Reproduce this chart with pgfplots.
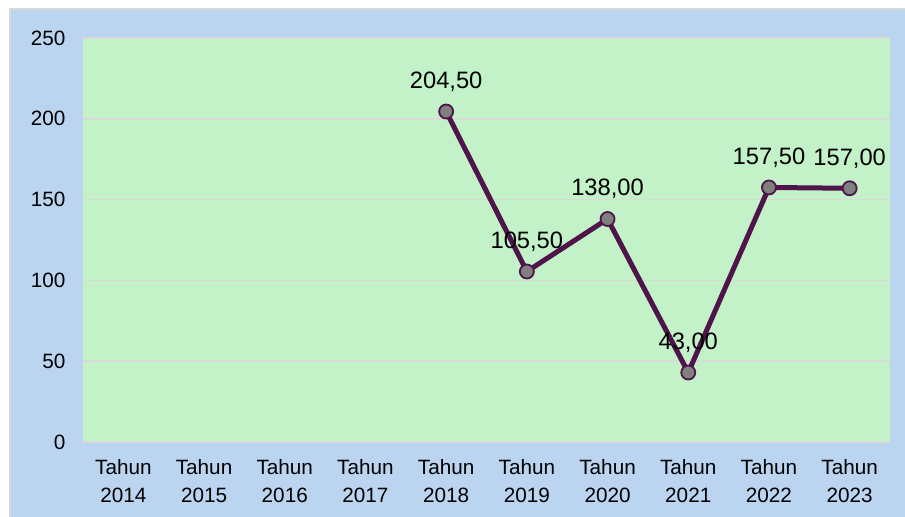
\documentclass[border=0pt]{standalone}
\usepackage{pgfplots}
\pgfplotsset{compat=1.18}
\usepackage{fontspec}
\setmainfont{Liberation Sans}
\definecolor{bgblue}{HTML}{BBD5F1}
\definecolor{plotgreen}{HTML}{C3F1C8}
\definecolor{linepurple}{HTML}{4F1449}
\definecolor{gridgray}{HTML}{D9D9D9}
\definecolor{markgray}{HTML}{808080}
\begin{document}
\begin{tikzpicture}[x=1bp,y=1bp]
\useasboundingbox (0,0) rectangle (905,517);
\fill[white] (0,0) rectangle (905,517);
\fill[gridgray] (9,0) rectangle (905,509);
\fill[bgblue] (11,0) rectangle (905,507);
\begin{axis}[
  at={(83bp,75bp)}, anchor=south west,
  scale only axis, width=807bp, height=404bp,
  xmin=-0.5, xmax=9.5, ymin=0, ymax=250,
  axis background/.style={fill=plotgreen},
  axis line style={draw=none},
  ymajorgrids, grid style={gridgray, line width=1.5bp},
  major tick length=0pt,
  ytick={0,50,100,150,200,250},
  xtick={0,...,9},
  xticklabels={{Tahun\\2014},{Tahun\\2015},{Tahun\\2016},{Tahun\\2017},{Tahun\\2018},{Tahun\\2019},{Tahun\\2020},{Tahun\\2021},{Tahun\\2022},{Tahun\\2023}},
  xticklabel style={align=center, font=\fontsize{20.8}{28}\selectfont, anchor=north, yshift=-14bp},
  yticklabel style={font=\fontsize{20.8}{24}\selectfont, anchor=east, xshift=-14bp},
  /pgf/number format/assume math mode=true,
  clip=false,
]
\addplot[color=linepurple, line width=5bp, mark=*, mark size=7bp,
  mark options={fill=markgray, draw=linepurple, line width=1.8bp},
  point meta=explicit symbolic,
  nodes near coords,
  every node near coord/.append style={anchor=base, yshift=23bp, font=\fontsize{23.8}{26}\selectfont, text=black},
] coordinates {
  (4,204.5) [204,50]
  (5,105.5) [105,50]
  (6,138) [138,00]
  (7,43) [43,00]
  (8,157.5) [157,50]
  (9,157) [157,00]
};
\end{axis}
\end{tikzpicture}
\end{document}
